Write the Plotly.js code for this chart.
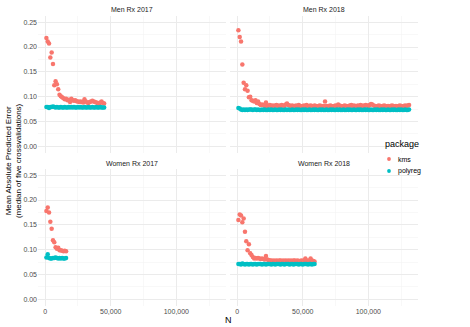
<!DOCTYPE html>
<html>
<head>
<meta charset="utf-8">
<script src="https://cdn.plot.ly/plotly-3.0.1.min.js"></script>
<style>
  body { margin: 0; background: #fff; }
  #plotArea { width: 470px; height: 327px; }
</style>
</head>
<body>
<div id="plotArea"></div>
<script>
// sample sizes in thousands (N / 1000), one per fitted point
var nThousands = [1, 2, 3, 4, 5, 6, 7, 8, 9, 10, 11, 12, 13, 14, 15, 16, 17, 18, 19, 20,
  21, 22, 23, 24, 25, 26, 27, 28, 29, 30, 31, 32, 33, 34, 35, 36, 37, 38, 39, 40,
  41, 42, 43, 44, 45, 46, 47, 48, 49, 50, 51, 52, 53, 54, 55, 56, 57, 58, 59, 60,
  61, 62, 63, 64, 65, 66, 67, 68, 69, 70, 71, 72, 73, 74, 75, 76, 77, 78, 79, 80,
  81, 82, 83, 84, 85, 86, 87, 88, 89, 90, 91, 92, 93, 94, 95, 96, 97, 98, 99, 100,
  101, 102, 103, 104, 105, 106, 107, 108, 109, 110, 111, 112, 113, 114, 115, 116, 117, 118, 119, 120,
  121, 122, 123, 124, 125, 126, 127, 128, 129, 130, 131];

var panels = ["Men Rx 2017", "Men Rx 2018", "Women Rx 2017", "Women Rx 2018"];
var packages = ["kms", "polyreg"];
var colors = {kms: "#F8766D", polyreg: "#00BFC4"};

// Men Rx 2017
var men2017Kms = [0.218, 0.211, 0.207, 0.179, 0.189, 0.166, 0.123, 0.131, 0.125, 0.115,
  0.104, 0.101, 0.099, 0.097, 0.095, 0.096, 0.093, 0.094, 0.089, 0.096,
  0.093, 0.092, 0.093, 0.091, 0.090, 0.089, 0.090, 0.089, 0.088, 0.095,
  0.090, 0.088, 0.087, 0.089, 0.090, 0.092, 0.090, 0.089, 0.088, 0.087,
  0.085, 0.088, 0.090, 0.087, 0.086];
var men2017Polyreg = [0.079, 0.079, 0.077, 0.079, 0.079, 0.080, 0.079, 0.078, 0.079, 0.078,
  0.078, 0.079, 0.078, 0.078, 0.079, 0.078, 0.078, 0.079, 0.078, 0.079,
  0.078, 0.079, 0.078, 0.078, 0.079, 0.078, 0.079, 0.078, 0.078, 0.079,
  0.078, 0.078, 0.079, 0.078, 0.078, 0.079, 0.078, 0.078, 0.079, 0.078,
  0.078, 0.079, 0.078, 0.078, 0.078];

// Men Rx 2018
var men2018Kms = [0.234, 0.220, 0.211, 0.165, 0.128, 0.115, 0.123, 0.112, 0.099, 0.100,
  0.093, 0.092, 0.090, 0.093, 0.087, 0.090, 0.085, 0.083, 0.084, 0.083,
  0.081, 0.088, 0.081, 0.082, 0.083, 0.081, 0.082, 0.081, 0.082, 0.083,
  0.081, 0.082, 0.081, 0.083, 0.082, 0.081, 0.084, 0.086, 0.083, 0.082,
  0.081, 0.082, 0.080, 0.081, 0.082, 0.081, 0.083, 0.081, 0.080, 0.081,
  0.082, 0.081, 0.083, 0.080, 0.081, 0.082, 0.081, 0.080, 0.082, 0.081,
  0.080, 0.081, 0.082, 0.081, 0.080, 0.081, 0.090, 0.081, 0.080, 0.081,
  0.082, 0.081, 0.080, 0.081, 0.082, 0.081, 0.084, 0.082, 0.081, 0.080,
  0.081, 0.082, 0.081, 0.080, 0.081, 0.082, 0.083, 0.081, 0.082, 0.081,
  0.080, 0.082, 0.081, 0.083, 0.081, 0.082, 0.081, 0.083, 0.082, 0.081,
  0.083, 0.085, 0.084, 0.082, 0.081, 0.080, 0.081, 0.082, 0.081, 0.080,
  0.081, 0.082, 0.081, 0.080, 0.081, 0.080, 0.081, 0.082, 0.081, 0.080,
  0.081, 0.080, 0.081, 0.082, 0.081, 0.080, 0.081, 0.082, 0.081, 0.082, 0.083];
var men2018Polyreg = [0.077, 0.076, 0.074, 0.073, 0.074, 0.073, 0.074, 0.073, 0.074, 0.074,
  0.074, 0.073, 0.074, 0.074, 0.073, 0.074, 0.073, 0.073, 0.074, 0.073,
  0.074, 0.073, 0.073, 0.074, 0.073, 0.074, 0.073, 0.073, 0.074, 0.073,
  0.073, 0.074, 0.073, 0.074, 0.073, 0.073, 0.074, 0.073, 0.074, 0.073,
  0.073, 0.074, 0.073, 0.073, 0.074, 0.073, 0.074, 0.073, 0.073, 0.074,
  0.073, 0.074, 0.073, 0.073, 0.074, 0.073, 0.073, 0.074, 0.073, 0.074,
  0.073, 0.073, 0.074, 0.073, 0.074, 0.073, 0.073, 0.074, 0.073, 0.073,
  0.074, 0.073, 0.074, 0.073, 0.073, 0.074, 0.073, 0.074, 0.073, 0.073,
  0.074, 0.073, 0.073, 0.074, 0.073, 0.074, 0.073, 0.073, 0.074, 0.073,
  0.073, 0.074, 0.073, 0.074, 0.073, 0.073, 0.074, 0.073, 0.074, 0.073,
  0.073, 0.074, 0.073, 0.073, 0.074, 0.073, 0.074, 0.073, 0.073, 0.074,
  0.073, 0.074, 0.073, 0.073, 0.074, 0.073, 0.073, 0.074, 0.073, 0.074,
  0.073, 0.073, 0.074, 0.073, 0.074, 0.073, 0.073, 0.074, 0.073, 0.073, 0.074];

// Women Rx 2017
var women2017Kms = [0.178, 0.185, 0.175, 0.156, 0.142, 0.119, 0.115, 0.105, 0.102, 0.104,
  0.099, 0.099, 0.098, 0.097, 0.098, 0.097];
var women2017Polyreg = [0.084, 0.091, 0.083, 0.082, 0.082, 0.083, 0.083, 0.084, 0.083, 0.082,
  0.083, 0.082, 0.083, 0.082, 0.082, 0.083];

// Women Rx 2018
var women2018Kms = [0.160, 0.171, 0.169, 0.155, 0.163, 0.136, 0.117, 0.099, 0.111, 0.093,
  0.089, 0.085, 0.082, 0.083, 0.082, 0.083, 0.082, 0.081, 0.082, 0.081,
  0.080, 0.087, 0.080, 0.079, 0.078, 0.078, 0.077, 0.078, 0.077, 0.078,
  0.077, 0.078, 0.078, 0.077, 0.078, 0.077, 0.078, 0.077, 0.078, 0.077,
  0.078, 0.077, 0.078, 0.078, 0.077, 0.078, 0.077, 0.077, 0.078, 0.077,
  0.078, 0.082, 0.077, 0.078, 0.077, 0.082, 0.078, 0.077, 0.076];
var women2018Polyreg = [0.071, 0.071, 0.070, 0.072, 0.071, 0.070, 0.071, 0.071, 0.070, 0.071,
  0.071, 0.070, 0.071, 0.071, 0.070, 0.071, 0.071, 0.071, 0.070, 0.071,
  0.071, 0.070, 0.071, 0.071, 0.071, 0.070, 0.071, 0.071, 0.070, 0.071,
  0.071, 0.071, 0.070, 0.071, 0.071, 0.070, 0.071, 0.071, 0.071, 0.070,
  0.071, 0.071, 0.070, 0.071, 0.071, 0.071, 0.070, 0.071, 0.071, 0.070,
  0.071, 0.071, 0.071, 0.070, 0.071, 0.071, 0.070, 0.071, 0.071];

var panelData = [
  {kms: men2017Kms, polyreg: men2017Polyreg},
  {kms: men2018Kms, polyreg: men2018Polyreg},
  {kms: women2017Kms, polyreg: women2017Polyreg},
  {kms: women2018Kms, polyreg: women2018Polyreg}
];

var W = 470, H = 327;
// panel boxes in pixels: [left, right, top, bottom]
var boxes = [[38, 226, 16, 152.5], [230, 418, 16, 152.5], [38, 226, 169, 305.5], [230, 418, 169, 305.5]];

var traces = [];
panelData.forEach(function(pd, i) {
  var suffix = i === 0 ? "" : String(i + 1);
  packages.forEach(function(pkg) {
    var ys = pd[pkg];
    traces.push({
      x: nThousands.slice(0, ys.length).map(function(k) { return k * 1000; }),
      y: ys,
      type: "scatter",
      mode: "markers",
      name: pkg,
      showlegend: false,
      marker: {color: colors[pkg], size: 4.5},
      xaxis: "x" + suffix,
      yaxis: "y" + suffix,
      hoverinfo: "x+y"
    });
  });
});

var tickFont = {family: "Liberation Sans, Arial, sans-serif", size: 7, color: "#4D4D4D"};
var layout = {
  width: W, height: H,
  margin: {l: 0, r: 0, t: 0, b: 0},
  paper_bgcolor: "#fff", plot_bgcolor: "#fff",
  font: {family: "Liberation Sans, Arial, sans-serif"},
  showlegend: false,
  annotations: [],
  shapes: []
};

boxes.forEach(function(b, i) {
  var suffix = i === 0 ? "" : String(i + 1);
  layout["xaxis" + suffix] = {
    domain: [b[0] / W, b[1] / W],
    anchor: "y" + suffix,
    range: [-5400, 137800],
    dtick: 50000, tick0: 0,
    tickformat: ",d",
    showticklabels: i >= 2,
    tickfont: tickFont,
    ticks: "", ticklen: 0,
    showgrid: true, gridcolor: "#EBEBEB", gridwidth: 1,
    minor: {dtick: 25000, tick0: 0, showgrid: true, gridcolor: "#F4F4F4", gridwidth: 0.6},
    zeroline: false, showline: false
  };
  layout["yaxis" + suffix] = {
    domain: [1 - b[3] / H, 1 - b[2] / H],
    anchor: "x" + suffix,
    range: [-0.0125, 0.2625],
    dtick: 0.05, tick0: 0,
    tickformat: ".2f",
    showticklabels: i % 2 === 0,
    tickfont: tickFont,
    ticks: "", ticklen: 0,
    showgrid: true, gridcolor: "#EBEBEB", gridwidth: 1,
    minor: {dtick: 0.025, tick0: 0, showgrid: true, gridcolor: "#F4F4F4", gridwidth: 0.6},
    zeroline: false, showline: false
  };
  layout.annotations.push({
    text: panels[i], xref: "paper", yref: "paper",
    x: (b[0] + b[1]) / 2 / W, y: 1 - (b[2] - 6) / H,
    showarrow: false, xanchor: "center", yanchor: "middle",
    font: {size: 7, color: "#1A1A1A"}
  });
});

layout.annotations.push({
  text: "N", xref: "paper", yref: "paper",
  x: 228 / W, y: 1 - 320 / H, showarrow: false,
  xanchor: "center", yanchor: "middle",
  font: {size: 9, color: "#000"}
});
layout.annotations.push({
  text: "Mean Absolute Predicted Error<br>(median of five crossvalidations)",
  xref: "paper", yref: "paper",
  x: 13 / W, y: 1 - 161 / H, showarrow: false, textangle: -90,
  xanchor: "center", yanchor: "middle",
  font: {size: 8, color: "#000"}
});

// legend (ggplot style: title above small keys)
layout.annotations.push({
  text: "package", xref: "paper", yref: "paper",
  x: 383 / W, y: 1 - 144 / H, showarrow: false,
  xanchor: "left", yanchor: "middle",
  font: {size: 9, color: "#000"}
});
packages.forEach(function(pkg, j) {
  var yPix = 159 + j * 12;
  layout.shapes.push({
    type: "circle", xref: "paper", yref: "paper",
    xsizemode: "pixel", ysizemode: "pixel",
    xanchor: 389 / W, yanchor: 1 - yPix / H,
    x0: -1.9, x1: 1.9, y0: -1.9, y1: 1.9,
    fillcolor: colors[pkg], line: {width: 0}
  });
  layout.annotations.push({
    text: pkg, xref: "paper", yref: "paper",
    x: 396 / W, y: 1 - yPix / H, showarrow: false,
    xanchor: "left", yanchor: "middle",
    font: {size: 7, color: "#000"}
  });
});

Plotly.newPlot("plotArea", traces, layout, {displayModeBar: false, staticPlot: true});
</script>
</body>
</html>
